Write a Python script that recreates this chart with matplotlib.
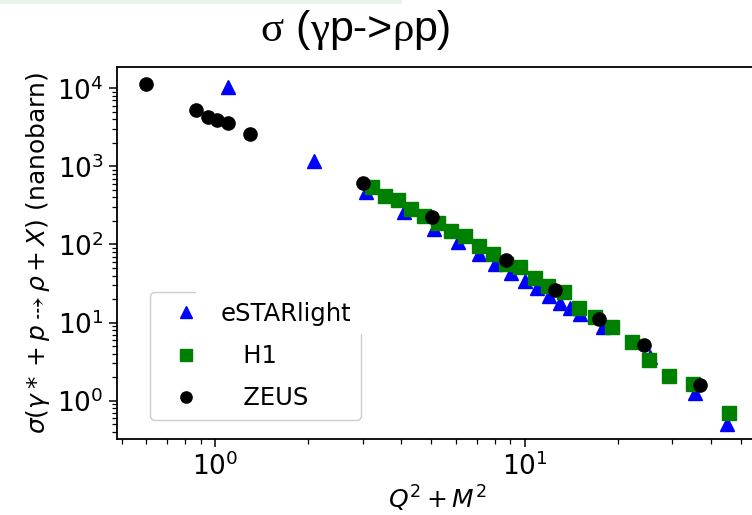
import matplotlib
matplotlib.use("Agg")
import matplotlib.pyplot as plt
from matplotlib.patches import Rectangle, Polygon
from matplotlib.transforms import IdentityTransform
from matplotlib.offsetbox import TextArea, HPacker, AnchoredOffsetbox

# Exclusive rho photoproduction cross sections vs Q^2 + M^2
estarlight_x = [1.10, 2.09, 3.08, 4.09, 5.09, 6.09, 7.10, 8.04, 9.06, 10.0,
                11.0, 12.0, 13.0, 14.0, 15.1, 17.9, 25.5, 35.5, 45.2]
estarlight_y = [10400, 1180, 470, 258, 158, 109, 76, 56.6, 43, 34.5,
                27.6, 22.0, 18.0, 15.3, 12.9, 8.9, 3.67, 1.24, 0.51]

h1_x = [3.21, 3.55, 3.89, 4.30, 4.72, 5.24, 5.79, 6.40, 7.11, 7.89, 8.72,
        9.68, 10.8, 11.9, 13.4, 15.0, 16.9, 19.2, 22.2, 25.3, 29.4, 34.9, 45.8]
h1_y = [545, 412, 366, 287, 229, 191, 150, 127, 97, 76, 56.6,
        51.3, 37.1, 29.5, 24.3, 15.3, 11.9, 8.9, 5.71, 3.33, 2.09, 1.62, 0.70]

zeus_x = [0.597, 0.870, 0.951, 1.013, 1.104, 1.295, 3.00, 5.01, 8.72,
          12.5, 17.4, 24.3, 37.0]
zeus_y = [11380, 5330, 4300, 3970, 3600, 2620, 612, 224, 63.7,
          26.3, 11.2, 5.18, 1.59]

series_labels = ["eSTARlight", "   H1", "   ZEUS"]

W, H, DPI = 752, 515, 100
fig = plt.figure(figsize=(W / DPI, H / DPI), dpi=DPI)

# thin pale strip along the top edge
fig.patches.append(Rectangle((0, 1 - 4 / H), 402 / W, 4 / H, transform=fig.transFigure,
                             facecolor="#e9f4e9", edgecolor="none", zorder=0))

left, right, top, bottom = 117, 758, 67, 439
ax = fig.add_axes([left / W, (H - bottom) / H, (right - left) / W, (bottom - top) / H])
ax.set_xscale("log")
ax.set_yscale("log")

ms = 9.5
ax.plot(estarlight_x, estarlight_y, "^", color="blue", ms=ms, ls="none", label=series_labels[0])
ax.plot(h1_x, h1_y, "s", color="green", ms=ms, ls="none", label=series_labels[1])
ax.plot(zeus_x, zeus_y, "o", color="black", ms=ms, ls="none", label=series_labels[2])

ax.set_xlim(0.482, 56.8)
ax.set_ylim(0.323, 18750)

for s in ax.spines.values():
    s.set_linewidth(1.3)
ax.tick_params(which="major", labelsize=19, length=6, width=1.1)
ax.tick_params(which="minor", length=3.5, width=0.9)

ax.set_xlabel(r"$Q^2 + M^2$", fontsize=18, labelpad=2)
ax.set_ylabel(r"$\sigma(\gamma* + p \dashrightarrow \rho + X)$ (nanobarn)", fontsize=18, labelpad=4)

leg = ax.legend(loc="lower left", bbox_to_anchor=(33 / (right - left), 19 / (bottom - top)),
                borderaxespad=0, fontsize=17.5, handlelength=2.2, handletextpad=0.3,
                labelspacing=0.75, markerscale=0.85,
                framealpha=1, edgecolor="#cccccc", fancybox=True)

# title built from pieces so the Greek letters get a serif face
sans = dict(family="Liberation Sans", fontsize=31)
serif = dict(family="Liberation Serif", fontsize=31)
pieces = [("σ", serif), (" (", sans), ("γ", serif), ("p->", sans), ("ρ", serif), ("p)", sans)]
box = HPacker(children=[TextArea(t, textprops=p) for t, p in pieces], align="baseline", pad=0, sep=0)
title = AnchoredOffsetbox(loc="center", child=box, pad=0, borderpad=0, frameon=False,
                          bbox_to_anchor=(356 / W, 1 - 30 / H), bbox_transform=fig.transFigure)
fig.add_artist(title)

# leave the upper-right corner of the legend frame open
fig.canvas.draw()
bb = leg.get_window_extent()
cx = bb.x0 + 0.22 * bb.width
cy = bb.y1 - 0.326 * bb.height
m = 6
clip = Polygon([(bb.x0 - m, bb.y0 - m), (bb.x1 + m, bb.y0 - m), (bb.x1 + m, cy),
                (cx, cy), (cx, bb.y1 + m), (bb.x0 - m, bb.y1 + m)],
               closed=True, transform=IdentityTransform())
leg.legendPatch.set_clip_path(clip)

fig.savefig("out.png", dpi=DPI)
